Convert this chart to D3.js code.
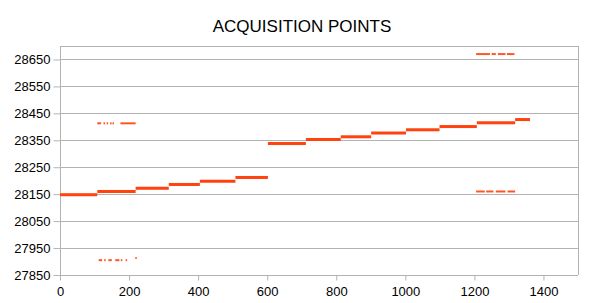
<!DOCTYPE html>
<html><head><meta charset="utf-8">
<script src="https://cdn.jsdelivr.net/npm/d3@7"></script>
<style>body{margin:0;background:#fff}svg{display:block}text{font-family:"Liberation Sans",Arial,sans-serif}</style>
</head><body><svg id="c" width="605" height="303"></svg>
<script>
const title = "ACQUISITION POINTS";
const yTicks = [27850, 27950, 28050, 28150, 28250, 28350, 28450, 28550, 28650];
const xTicks = [0, 200, 400, 600, 800, 1000, 1200, 1400];
// main series: step runs (x from, x to, value)
const stepStart = [0, 108, 219, 315, 405, 508, 602, 712, 813, 901, 1002, 1099, 1207, 1318];
const stepEnd   = [108, 219, 315, 405, 508, 602, 712, 813, 901, 1002, 1099, 1207, 1318, 1361];
const stepValue = [28148, 28160, 28172, 28186, 28198, 28212, 28338, 28353, 28363, 28377, 28389, 28401, 28415, 28427];
// outlier runs
const outStart = [108, 126, 135, 145, 152, 175,   112, 128, 140, 160, 176, 190, 218,   1205, 1250, 1268, 1294,   1205, 1234, 1262, 1296];
const outEnd   = [119, 128, 137, 149, 155, 219,   122, 132, 150, 172, 180, 192, 220,   1245, 1262, 1290, 1316,   1230, 1255, 1290, 1318];
const outValue = [28413, 28413, 28413, 28413, 28413, 28413,   27905, 27905, 27905, 27905, 27905, 27905, 27913,   28670, 28670, 28670, 28670,   28160, 28160, 28160, 28160];

const svg = d3.select("#c");
const m = {l: 60, r: 27, t: 46, b: 28};
const W = 605, H = 303;
const x = d3.scaleLinear().domain([0, 1500]).range([m.l, W - m.r]);
const y = d3.scaleLinear().domain([27850, 28700]).range([H - m.b, m.t]);
const color = "#ff420e", grid = "#b3b3b3";

svg.append("text").attr("x", 302).attr("y", 31.5).attr("text-anchor", "middle")
  .attr("font-size", 17).attr("fill", "#000").text(title);

// gridlines
svg.append("g").selectAll("line").data(yTicks.concat([28700])).join("line")
  .attr("x1", m.l).attr("x2", W - m.r)
  .attr("y1", d => Math.round(y(d)) + 0.5).attr("y2", d => Math.round(y(d)) + 0.5)
  .attr("stroke", grid);
svg.append("line").attr("x1", Math.round(x(1500)) + 0.5).attr("x2", Math.round(x(1500)) + 0.5)
  .attr("y1", y(28700)).attr("y2", y(27850)).attr("stroke", grid);

// y axis
const ya = svg.append("g").attr("transform", `translate(${Math.round(m.l)+0.5},0)`)
  .call(d3.axisLeft(y).tickValues(yTicks).tickFormat(d3.format("d")).tickSize(7).tickPadding(3));
ya.select(".domain").attr("stroke", grid).attr("d", `M0,${y(28700)}V${y(27850)}`);
ya.selectAll(".tick line").attr("stroke", grid);
ya.selectAll(".tick text").attr("font-size", 13).attr("fill", "#000").attr("font-family", "Liberation Sans, Arial, sans-serif");

// x axis
const xa = svg.append("g").attr("transform", `translate(0,${Math.round(y(27850))+0.5})`)
  .call(d3.axisBottom(x).tickValues(xTicks).tickFormat(d3.format("d")).tickSize(5).tickPadding(6));
xa.select(".domain").attr("stroke", grid).attr("d", `M${x(0)},0H${x(1500)}`);
xa.selectAll(".tick line").attr("stroke", grid);
xa.selectAll(".tick text").attr("font-size", 13).attr("fill", "#000").attr("font-family", "Liberation Sans, Arial, sans-serif");

// main runs
svg.append("g").selectAll("rect").data(stepValue.map((v, i) => ({x0: stepStart[i], x1: stepEnd[i], v}))).join("rect")
  .attr("x", d => x(d.x0)).attr("width", d => x(d.x1) - x(d.x0))
  .attr("y", d => y(d.v) - 1.5).attr("height", 3).attr("fill", color);
// outliers
svg.append("g").selectAll("rect").data(outValue.map((v, i) => ({x0: outStart[i], x1: outEnd[i], v}))).join("rect")
  .attr("x", d => x(d.x0)).attr("width", d => Math.max(1.5, x(d.x1) - x(d.x0)))
  .attr("y", d => y(d.v) - 1).attr("height", 2).attr("fill", color).attr("opacity", 0.9);
</script></body></html>
